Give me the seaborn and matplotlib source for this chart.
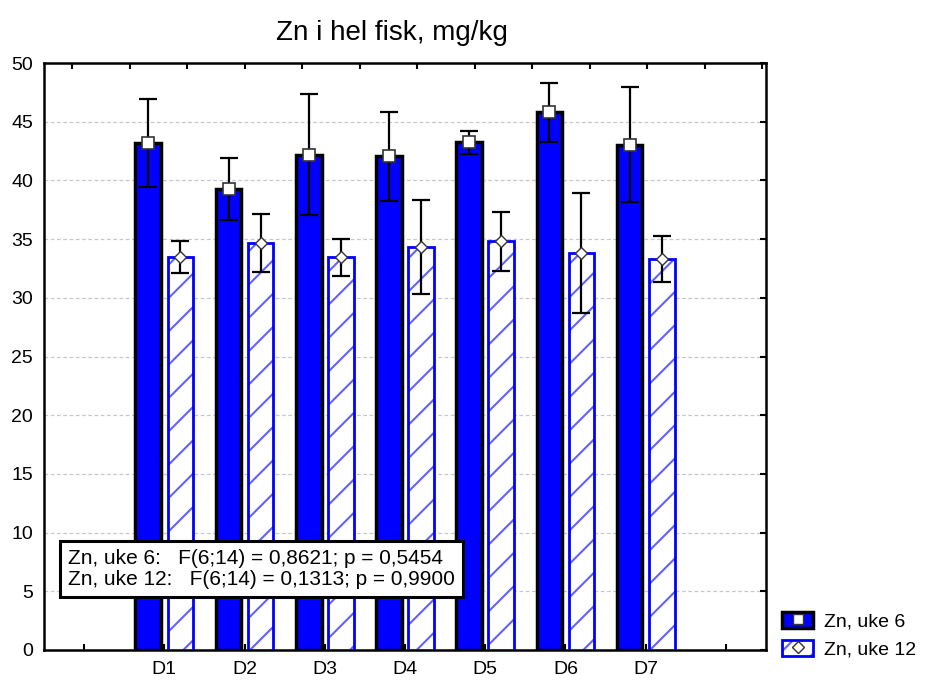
import numpy as np
import pandas as pd
import matplotlib
matplotlib.use("Agg")
import matplotlib.pyplot as plt
from matplotlib.patches import Patch, Rectangle
from matplotlib.lines import Line2D
from matplotlib.legend_handler import HandlerTuple
import seaborn as sns

# ---- data ----
categories = ["D1", "D2", "D3", "D4", "D5", "D6", "D7"]
series_names = ["Zn, uke 6", "Zn, uke 12"]
mean_uke6 = [43.2, 39.25, 42.2, 42.05, 43.25, 45.8, 43.05]
err_uke6 = [3.75, 2.65, 5.15, 3.8, 1.0, 2.5, 4.9]
mean_uke12 = [33.45, 34.65, 33.45, 34.35, 34.8, 33.8, 33.3]
err_uke12 = [1.35, 2.47, 1.6, 4.0, 2.5, 5.1, 1.95]
title = "Zn i hel fisk, mg/kg"
stats_text = ("Zn, uke 6:   F(6;14) = 0,8621; p = 0,5454\n"
              "Zn, uke 12:   F(6;14) = 0,1313; p = 0,9900")

df = pd.DataFrame({
    "group": categories * 2,
    "value": mean_uke6 + mean_uke12,
    "err": err_uke6 + err_uke12,
    "series": [series_names[0]] * 7 + [series_names[1]] * 7,
})

sns.set_style("white")
plt.rcParams["font.family"] = ["Liberation Sans", "DejaVu Sans"]
plt.rcParams["hatch.linewidth"] = 1.5
plt.rcParams["text.color"] = "black"
plt.rcParams["xtick.color"] = "black"
plt.rcParams["ytick.color"] = "black"

BLUE = "#0000ff"
HATCH_BLUE = "#6262ff"

fig = plt.figure(figsize=(9.25, 6.8), dpi=100)
ax = fig.add_axes([44 / 925, 30 / 680, 722 / 925, 587 / 680])

sns.barplot(data=df, x="group", y="value", hue="series", order=categories,
            hue_order=series_names, palette=[BLUE, "#ffffff"],
            errorbar=None, width=0.8, gap=0.2, ax=ax, legend=False,
            saturation=1, zorder=3)

bar_containers = list(ax.containers)

# style bars
for ci, cont in enumerate(bar_containers):
    for bar in cont:
        if ci == 0:
            bar.set_facecolor(BLUE)
            bar.set_edgecolor("black")
            bar.set_linewidth(2.5)
        else:
            bar.set_facecolor("white")
            bar.set_edgecolor(HATCH_BLUE)
            bar.set_hatch("/")
            bar.set_linewidth(0)
            outline = Rectangle(bar.get_xy(), bar.get_width(), bar.get_height(),
                                facecolor="none", edgecolor=BLUE, linewidth=2.0,
                                zorder=3.5)
            ax.add_patch(outline)

# error bars + markers
errs = [err_uke6, err_uke12]
means = [mean_uke6, mean_uke12]
markers = [dict(marker="s", ms=8, mfc="white", mec="#333333", mew=1.2),
           dict(marker="D", ms=6, mfc="white", mec="#333333", mew=1.0)]
for ci, cont in enumerate(bar_containers):
    xs = [b.get_x() + b.get_width() / 2 for b in cont]
    ax.errorbar(xs, means[ci], yerr=errs[ci], fmt="none", ecolor="black",
                elinewidth=1.6, capsize=6.5, capthick=1.6, zorder=4)
    ax.plot(xs, means[ci], linestyle="none", zorder=5, **markers[ci])

ax.set_xlim(-1.5, 7.5)
ax.set_ylim(0, 50)
ax.set_yticks(np.arange(0, 51, 5))
ax.set_xticks(range(-1, 8))
ax.set_xticklabels([""] + categories + [""])
ax.set_xlabel("")
ax.set_ylabel("")
ax.yaxis.grid(True, color="#c8c8c8", linestyle=(0, (3, 2)), linewidth=0.9, zorder=0)
ax.set_axisbelow(True)
ax.tick_params(axis="both", direction="in", length=4, width=1.5, labelsize=14,
               colors="black", pad=8)
ax.tick_params(axis="y", right=True)
ax.tick_params(axis="x", pad=8)
for sp in ax.spines.values():
    sp.set_visible(True)
    sp.set_color("black")
    sp.set_linewidth(1.8)

# top ticks
ax2 = ax.twiny()
ax2.set_xlim(0, 1)
ax2.set_xticks(np.linspace(28 / 722, 28 / 722 + 12 * 57.5 / 722, 13))
ax2.set_xticklabels([])
ax2.tick_params(axis="x", direction="in", length=4, width=1.5)
for sp in ax2.spines.values():
    sp.set_visible(False)

# stats box
ax.text(0.033, 0.104, stats_text, transform=ax.transAxes, ha="left", va="bottom",
        fontsize=15, linespacing=1.15, zorder=10, color="black",
        bbox=dict(boxstyle="square,pad=0.38", facecolor="white",
                  edgecolor="black", linewidth=2.2))

# title
fig.text(392 / 925, 1 - 33 / 680, title, ha="center", va="center", fontsize=20,
         color="black")

# legend
h1 = (Patch(facecolor=BLUE, edgecolor="black", linewidth=2.5),
      Line2D([], [], linestyle="none", marker="s", ms=7, mfc="white", mec="#333333", mew=1.0))
h2 = (Patch(facecolor="white", edgecolor=HATCH_BLUE, hatch="/", linewidth=0),
      Patch(facecolor="none", edgecolor=BLUE, linewidth=2.0),
      Line2D([], [], linestyle="none", marker="D", ms=6, mfc="white", mec="#333333", mew=1.0))
fig.legend([h1, h2], series_names, handler_map={tuple: HandlerTuple(ndivide=1, pad=0)},
           loc="upper left", bbox_to_anchor=(782 / 925, 1 - 612 / 680),
           frameon=False, fontsize=14, handlelength=1.6, handleheight=0.9,
           handletextpad=0.55, labelspacing=0.45, borderpad=0, borderaxespad=0,
           labelcolor="black")

fig.savefig("out.png", dpi=100)
